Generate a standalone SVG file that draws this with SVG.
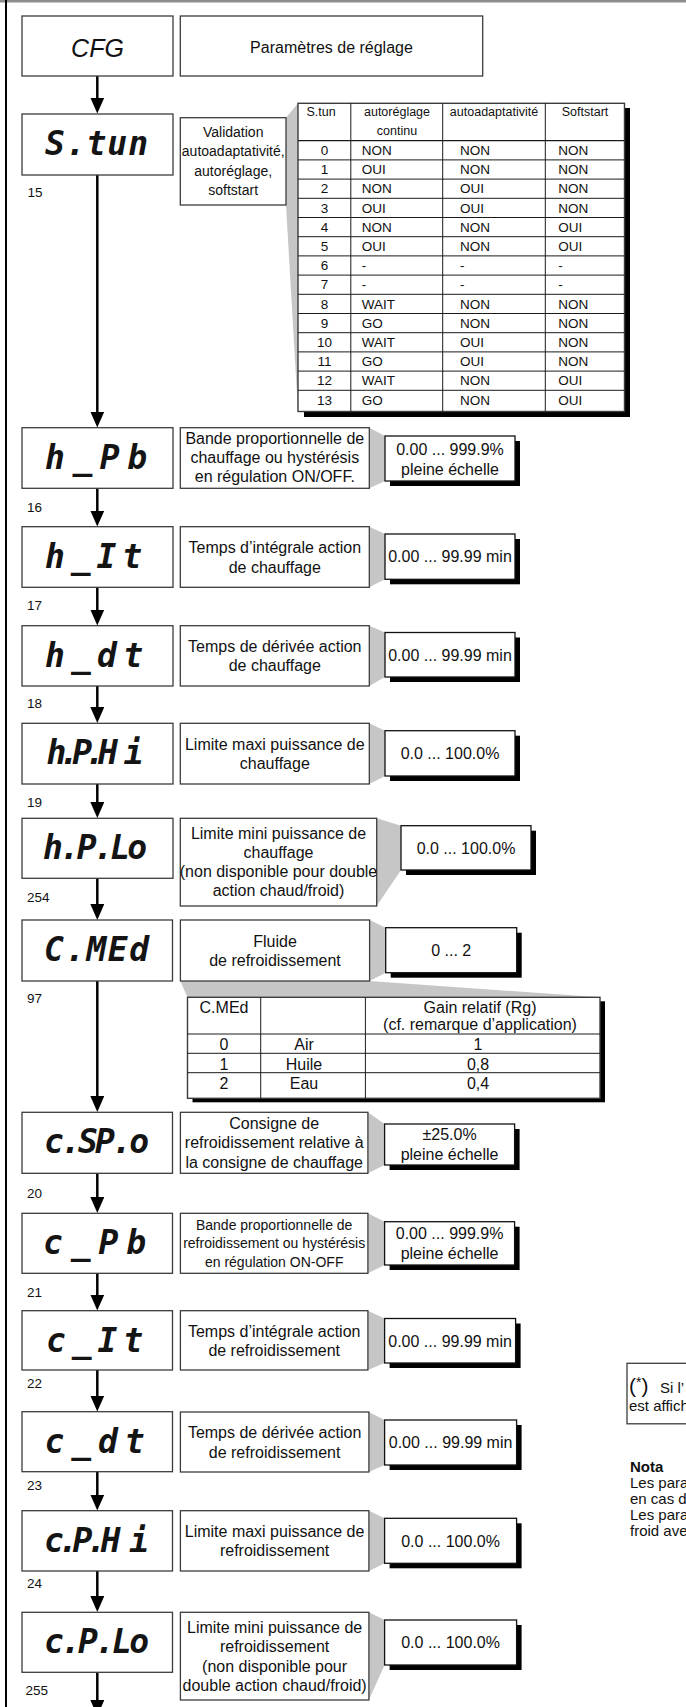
<svg xmlns="http://www.w3.org/2000/svg" width="686" height="1707" viewBox="0 0 686 1707">
<defs>
<style>
.bg{fill:#fff}
.frame{fill:#000}
.topband{fill:#8e8e8e}
.disp{fill:#fff;stroke:#3c3c3c;stroke-width:1.3}
.box{fill:#fff;stroke:#3c3c3c;stroke-width:1.3}
.val{fill:#fff;stroke:#111;stroke-width:1.3}
.shd{fill:#000}
.wedge{fill:#c6c6c6}
.lcd{font-family:"DejaVu Sans Mono","Liberation Mono",monospace;font-weight:bold;font-style:oblique;font-size:33px;text-anchor:middle;fill:#141414}
.t{font-family:"Liberation Sans",Arial,Helvetica,sans-serif;fill:#111}
.c{text-anchor:middle}
.f16{font-size:16px}
.f15{font-size:15px}
.f14{font-size:14px}
.f13{font-size:13.5px}
.f12{font-size:12.5px}
.num{font-family:"Liberation Sans",Arial,sans-serif;font-size:13.5px;fill:#111}
.conn line{stroke:#000;stroke-width:2.5;marker-end:url(#ah)}
.grid{stroke:#1a1a1a;stroke-width:1;fill:none}
.tbl{fill:#fff;stroke:#3c3c3c;stroke-width:1.4}
</style>
<marker id="ah" markerUnits="userSpaceOnUse" markerWidth="16" markerHeight="14" viewBox="0 0 16 14" refX="12" refY="7" orient="auto">
<path d="M0,0 L16,7 L0,14 z" fill="#000"/>
</marker>
</defs>

<rect class="bg" x="0" y="0" width="686" height="1707"/>
<!-- page frame -->
<rect class="topband" x="0" y="0" width="686" height="2.5"/>
<rect class="frame" x="5" y="0" width="2" height="1707"/>

<!-- connectors -->
<g id="connectors" class="conn">
<line x1="97.3" y1="76" x2="97.3" y2="109.5"/>
<line x1="97.3" y1="175" x2="97.3" y2="423.5"/>
<line x1="97.3" y1="488.3" x2="97.3" y2="522.5"/>
<line x1="97.3" y1="587.3" x2="97.3" y2="621.5"/>
<line x1="97.3" y1="686" x2="97.3" y2="719"/>
<line x1="97.3" y1="784" x2="97.3" y2="814"/>
<line x1="97.3" y1="878.3" x2="97.3" y2="916"/>
<line x1="97.3" y1="981" x2="97.3" y2="1108"/>
<line x1="97.3" y1="1173.3" x2="97.3" y2="1209"/>
<line x1="97.3" y1="1273.3" x2="97.3" y2="1306.5"/>
<line x1="97.3" y1="1370" x2="97.3" y2="1407.5"/>
<line x1="97.3" y1="1471.7" x2="97.3" y2="1506.5"/>
<line x1="97.3" y1="1571" x2="97.3" y2="1608"/>
<line x1="97.3" y1="1672.3" x2="97.3" y2="1712"/>
</g>

<!-- CFG -->
<g id="n-cfg">
<rect class="disp" x="22" y="16" width="151" height="60"/>
<text class="t c" x="97.5" y="56.5" style="font-size:25px;font-style:italic">CFG</text>
</g>
<g id="n-cfg-title">
<rect class="box" x="180.3" y="16" width="302.4" height="60"/>
<text class="t c f16" x="331.5" y="52.5">Paramètres de réglage</text>
</g>

<!-- S.tun -->
<g id="n-stun">
<rect class="disp" x="22" y="114" width="151" height="61"/>
<text class="lcd" x="96.5" y="155" textLength="103" lengthAdjust="spacing">S.tun</text>
<text class="num" x="27.5" y="197.3">15</text>
<polygon class="wedge" points="286,117.7 298,103.3 298,411.5 286,205"/>
<rect class="box" x="180.3" y="117.7" width="105.7" height="87.3"/>
<text class="t c f14" x="233.2" y="136.7">Validation</text>
<text class="t c f14" x="233.2" y="156.1">autoadaptativité,</text>
<text class="t c f14" x="233.2" y="175.5">autoréglage,</text>
<text class="t c f14" x="233.2" y="194.9">softstart</text>
</g>

<g id="stun-table">
<rect class="shd" x="304" y="108" width="326" height="309"/>
<rect class="tbl" x="298" y="103.3" width="326.5" height="308.2"/>
<path class="grid" d="M350.8,103.3V411.5 M442.7,103.3V411.5 M545.3,103.3V411.5"/>
<path class="grid" style="stroke-width:1.3" d="M298,140.7H624.5"/>
<path class="grid" d="M298,159.9H624.5 M298,179.1H624.5 M298,198.3H624.5 M298,217.5H624.5 M298,236.7H624.5 M298,255.9H624.5 M298,275.1H624.5 M298,294.3H624.5 M298,313.5H624.5 M298,332.7H624.5 M298,351.9H624.5 M298,371.1H624.5 M298,390.3H624.5"/>
<g class="t f12">
<text class="c" x="321" y="115.5">S.tun</text>
<text class="c" x="397" y="115.5">autoréglage</text>
<text class="c" x="397" y="134.5">continu</text>
<text class="c" x="494" y="115.5">autoadaptativité</text>
<text class="c" x="585" y="115.5">Softstart</text>
</g>
<g class="t f13">
<text class="c" x="324.5" y="154.9">0</text><text x="361.7" y="154.9">NON</text><text x="460" y="154.9">NON</text><text x="558.3" y="154.9">NON</text>
<text class="c" x="324.5" y="174.1">1</text><text x="361.7" y="174.1">OUI</text><text x="460" y="174.1">NON</text><text x="558.3" y="174.1">NON</text>
<text class="c" x="324.5" y="193.3">2</text><text x="361.7" y="193.3">NON</text><text x="460" y="193.3">OUI</text><text x="558.3" y="193.3">NON</text>
<text class="c" x="324.5" y="212.5">3</text><text x="361.7" y="212.5">OUI</text><text x="460" y="212.5">OUI</text><text x="558.3" y="212.5">NON</text>
<text class="c" x="324.5" y="231.7">4</text><text x="361.7" y="231.7">NON</text><text x="460" y="231.7">NON</text><text x="558.3" y="231.7">OUI</text>
<text class="c" x="324.5" y="250.9">5</text><text x="361.7" y="250.9">OUI</text><text x="460" y="250.9">NON</text><text x="558.3" y="250.9">OUI</text>
<text class="c" x="324.5" y="270.1">6</text><text x="361.7" y="270.1">-</text><text x="460" y="270.1">-</text><text x="558.3" y="270.1">-</text>
<text class="c" x="324.5" y="289.3">7</text><text x="361.7" y="289.3">-</text><text x="460" y="289.3">-</text><text x="558.3" y="289.3">-</text>
<text class="c" x="324.5" y="308.5">8</text><text x="361.7" y="308.5">WAIT</text><text x="460" y="308.5">NON</text><text x="558.3" y="308.5">NON</text>
<text class="c" x="324.5" y="327.7">9</text><text x="361.7" y="327.7">GO</text><text x="460" y="327.7">NON</text><text x="558.3" y="327.7">NON</text>
<text class="c" x="324.5" y="346.9">10</text><text x="361.7" y="346.9">WAIT</text><text x="460" y="346.9">OUI</text><text x="558.3" y="346.9">NON</text>
<text class="c" x="324.5" y="366.1">11</text><text x="361.7" y="366.1">GO</text><text x="460" y="366.1">OUI</text><text x="558.3" y="366.1">NON</text>
<text class="c" x="324.5" y="385.3">12</text><text x="361.7" y="385.3">WAIT</text><text x="460" y="385.3">NON</text><text x="558.3" y="385.3">OUI</text>
<text class="c" x="324.5" y="404.5">13</text><text x="361.7" y="404.5">GO</text><text x="460" y="404.5">NON</text><text x="558.3" y="404.5">OUI</text>
</g>
</g>

<!-- h_Pb -->
<g id="n-hpb">
<rect class="disp" x="22" y="427.7" width="151" height="60.6"/>
<text class="lcd" x="96" y="468.5" textLength="102" lengthAdjust="spacing">h_Pb</text>
<text class="num" x="27" y="511.7">16</text>
<polygon class="wedge" points="369.3,427.7 385,436 385,481 369.3,488.3"/>
<rect class="box" x="180.3" y="427.7" width="189" height="60.6"/>
<text class="t c f16" x="274.8" y="444">Bande proportionnelle de</text>
<text class="t c f16" x="274.8" y="463">chauffage ou hystérésis</text>
<text class="t c f16" x="274.8" y="482">en régulation ON/OFF.</text>
<rect class="shd" x="390" y="441" width="130" height="45"/>
<rect class="val" x="385" y="436" width="130" height="45"/>
<text class="t c f16" x="450" y="455">0.00 ... 999.9%</text>
<text class="t c f16" x="450" y="474.5">pleine échelle</text>
</g>

<!-- h_It -->
<g id="n-hit">
<rect class="disp" x="22" y="526.7" width="151" height="60.6"/>
<text class="lcd" x="93.5" y="567.5" textLength="97" lengthAdjust="spacing">h_It</text>
<text class="num" x="27" y="610">17</text>
<polygon class="wedge" points="369.3,526.7 385,534 385,579.3 369.3,587.3"/>
<rect class="box" x="180.3" y="526.7" width="189" height="60.6"/>
<text class="t c f16" x="274.8" y="553.3">Temps d’intégrale action</text>
<text class="t c f16" x="274.8" y="572.6">de chauffage</text>
<rect class="shd" x="390" y="539" width="130" height="45.3"/>
<rect class="val" x="385" y="534" width="130" height="45.3"/>
<text class="t c f16" x="450" y="562.4">0.00 ... 99.99 min</text>
</g>

<!-- h_dt -->
<g id="n-hdt">
<rect class="disp" x="22" y="625.7" width="151" height="60.3"/>
<text class="lcd" x="94" y="666.5" textLength="98" lengthAdjust="spacing">h_dt</text>
<text class="num" x="27" y="708">18</text>
<polygon class="wedge" points="369.3,625.7 385,632.5 385,677 369.3,686"/>
<rect class="box" x="180.3" y="625.7" width="189" height="60.3"/>
<text class="t c f16" x="274.8" y="652">Temps de dérivée action</text>
<text class="t c f16" x="274.8" y="671.3">de chauffage</text>
<rect class="shd" x="390" y="637.5" width="130" height="44.5"/>
<rect class="val" x="385" y="632.5" width="130" height="44.5"/>
<text class="t c f16" x="450" y="660.5">0.00 ... 99.99 min</text>
</g>

<!-- h.P.Hi -->
<g id="n-hphi">
<rect class="disp" x="22" y="723.3" width="151" height="60.7"/>
<text class="lcd" x="95" y="764" textLength="97" lengthAdjust="spacing">h.P.H i</text>
<text class="num" x="27" y="806.7">19</text>
<polygon class="wedge" points="369.3,723.3 385,730.7 385,776 369.3,784"/>
<rect class="box" x="180.3" y="723.3" width="189" height="60.7"/>
<text class="t c f16" x="274.8" y="749.8">Limite maxi puissance de</text>
<text class="t c f16" x="274.8" y="769.1">chauffage</text>
<rect class="shd" x="390" y="735.7" width="130" height="45.3"/>
<rect class="val" x="385" y="730.7" width="130" height="45.3"/>
<text class="t c f16" x="450" y="759">0.0 ... 100.0%</text>
</g>

<!-- h.P.Lo -->
<g id="n-hplo">
<rect class="disp" x="22" y="818.3" width="151" height="60"/>
<text class="lcd" x="95" y="859" textLength="104" lengthAdjust="spacing">h.P.Lo</text>
<text class="num" x="27" y="901.7">254</text>
<polygon class="wedge" points="376.7,818.3 401,825.7 401,870 376.7,906"/>
<rect class="box" x="180.3" y="818.3" width="196.4" height="87.7"/>
<text class="t c f16" x="278.5" y="838.5">Limite mini puissance de</text>
<text class="t c f16" x="278.5" y="857.8">chauffage</text>
<text class="t c f16" x="278.5" y="877.1">(non disponible pour double</text>
<text class="t c f16" x="278.5" y="896.4">action chaud/froid)</text>
<rect class="shd" x="406" y="830.7" width="130" height="44.3"/>
<rect class="val" x="401" y="825.7" width="130" height="44.3"/>
<text class="t c f16" x="466" y="853.6">0.0 ... 100.0%</text>
</g>

<!-- C.MEd -->
<g id="n-cmed">
<rect class="disp" x="22" y="920" width="150.5" height="61"/>
<text class="lcd" x="96.5" y="961" textLength="105" lengthAdjust="spacing">C.MEd</text>
<text class="num" x="27" y="1003.3">97</text>
<polygon class="wedge" points="369.6,920 385.7,927.7 385.7,972.7 369.6,981"/>
<polygon class="wedge" points="180.4,981 369.6,981 600,997.3 187.5,997.3"/>
<rect class="box" x="180.4" y="920" width="189.2" height="61"/>
<text class="t c f16" x="275" y="946.5">Fluide</text>
<text class="t c f16" x="275" y="965.8">de refroidissement</text>
<rect class="shd" x="390.7" y="932.7" width="131" height="45"/>
<rect class="val" x="385.7" y="927.7" width="131" height="45"/>
<text class="t c f16" x="451.2" y="955.9">0 ... 2</text>
</g>

<g id="cmed-table">
<rect class="shd" x="192.5" y="1001.3" width="412.5" height="101"/>
<rect class="tbl" x="187.5" y="997.3" width="412.5" height="101"/>
<path class="grid" d="M260.7,997.3V1098.3 M365.4,997.3V1098.3"/>
<path class="grid" d="M187.5,1034H600 M187.5,1053.3H600 M187.5,1072.7H600"/>
<g class="t f16">
<text class="c" x="224" y="1013">C.MEd</text>
<text class="c" x="480" y="1013.3">Gain relatif (Rg)</text>
<text class="c" x="480" y="1030">(cf. remarque d’application)</text>
<text class="c" x="224" y="1050">0</text><text class="c" x="304" y="1050">Air</text><text class="c" x="478" y="1050">1</text>
<text class="c" x="224" y="1069.5">1</text><text class="c" x="304" y="1069.5">Huile</text><text class="c" x="478" y="1069.5">0,8</text>
<text class="c" x="224" y="1089">2</text><text class="c" x="304" y="1089">Eau</text><text class="c" x="478" y="1089">0,4</text>
</g>
</g>

<!-- c.SP.o -->
<g id="n-cspo">
<rect class="disp" x="22" y="1112.3" width="150.5" height="61"/>
<text class="lcd" x="96.5" y="1153.3" textLength="105" lengthAdjust="spacing">c.SP.o</text>
<text class="num" x="27" y="1198.3">20</text>
<polygon class="wedge" points="367.9,1112.3 384.6,1124 384.6,1165 367.9,1173.3"/>
<rect class="box" x="180.4" y="1112.3" width="187.5" height="61"/>
<text class="t c f16" x="274.2" y="1128.6">Consigne de</text>
<text class="t c f16" x="274.2" y="1148.3">refroidissement relative à</text>
<text class="t c f16" x="274.2" y="1168">la consigne de chauffage</text>
<rect class="shd" x="389.6" y="1129" width="130" height="41"/>
<rect class="val" x="384.6" y="1124" width="130" height="41"/>
<text class="t c f16" x="449.6" y="1140.3">±25.0%</text>
<text class="t c f16" x="449.6" y="1159.5">pleine échelle</text>
</g>

<!-- c_Pb -->
<g id="n-cpb">
<rect class="disp" x="22" y="1213.3" width="150.5" height="60"/>
<text class="lcd" x="94.5" y="1254" textLength="103" lengthAdjust="spacing">c_Pb</text>
<text class="num" x="27" y="1296.7">21</text>
<polygon class="wedge" points="367.9,1213.3 384.6,1221.7 384.6,1265 367.9,1273.3"/>
<rect class="box" x="180.4" y="1213.3" width="187.5" height="60"/>
<text class="t c f14" x="274.2" y="1230">Bande proportionnelle de</text>
<text class="t c f14" x="274.2" y="1248.3">refroidissement ou hystérésis</text>
<text class="t c f14" x="274.2" y="1266.6">en régulation ON-OFF</text>
<rect class="shd" x="389.6" y="1226.7" width="130" height="43.3"/>
<rect class="val" x="384.6" y="1221.7" width="130" height="43.3"/>
<text class="t c f16" x="449.6" y="1239.3">0.00 ... 999.9%</text>
<text class="t c f16" x="449.6" y="1258.8">pleine échelle</text>
</g>

<!-- c_It -->
<g id="n-cit">
<rect class="disp" x="22" y="1310.7" width="150.5" height="59.3"/>
<text class="lcd" x="94.5" y="1351.5" textLength="97" lengthAdjust="spacing">c_It</text>
<text class="num" x="27" y="1388.3">22</text>
<polygon class="wedge" points="367.9,1310.7 384.6,1318.5 384.6,1363 367.9,1370"/>
<rect class="box" x="180.4" y="1310.7" width="187.5" height="59.3"/>
<text class="t c f16" x="274.2" y="1336.7">Temps d’intégrale action</text>
<text class="t c f16" x="274.2" y="1356">de refroidissement</text>
<rect class="shd" x="389.6" y="1323.5" width="131" height="44.5"/>
<rect class="val" x="384.6" y="1318.5" width="131" height="44.5"/>
<text class="t c f16" x="450.1" y="1346.5">0.00 ... 99.99 min</text>
</g>

<!-- c_dt -->
<g id="n-cdt">
<rect class="disp" x="22" y="1411.7" width="150.5" height="60"/>
<text class="lcd" x="94.6" y="1452.5" textLength="100" lengthAdjust="spacing">c_dt</text>
<text class="num" x="27" y="1490">23</text>
<polygon class="wedge" points="368.9,1412 384.6,1420 384.6,1465 368.9,1472"/>
<rect class="box" x="180.4" y="1412" width="188.5" height="60"/>
<text class="t c f16" x="274.6" y="1438.2">Temps de dérivée action</text>
<text class="t c f16" x="274.6" y="1457.5">de refroidissement</text>
<rect class="shd" x="389.6" y="1425" width="132" height="45"/>
<rect class="val" x="384.6" y="1420" width="132" height="45"/>
<text class="t c f16" x="450.6" y="1448.2">0.00 ... 99.99 min</text>
</g>

<!-- c.P.Hi -->
<g id="n-cphi">
<rect class="disp" x="22" y="1510.7" width="150.5" height="60.3"/>
<text class="lcd" x="96.5" y="1551.5" textLength="105" lengthAdjust="spacing">c.P.H i</text>
<text class="num" x="27" y="1588.3">24</text>
<polygon class="wedge" points="368.9,1510.7 384.6,1518.3 384.6,1563.3 368.9,1571"/>
<rect class="box" x="180.4" y="1510.7" width="188.5" height="60.3"/>
<text class="t c f16" x="274.6" y="1537">Limite maxi puissance de</text>
<text class="t c f16" x="274.6" y="1556.3">refroidissement</text>
<rect class="shd" x="389.6" y="1523.3" width="132" height="45"/>
<rect class="val" x="384.6" y="1518.3" width="132" height="45"/>
<text class="t c f16" x="450.6" y="1546.5">0.0 ... 100.0%</text>
</g>

<!-- c.P.Lo -->
<g id="n-cplo">
<rect class="disp" x="22" y="1612.3" width="150.5" height="60"/>
<text class="lcd" x="96.5" y="1653" textLength="105" lengthAdjust="spacing">c.P.Lo</text>
<text class="num" x="25.5" y="1695">255</text>
<polygon class="wedge" points="368.9,1612.3 384.6,1620 384.6,1665 368.9,1700"/>
<rect class="box" x="180.4" y="1612.3" width="188.5" height="87.7"/>
<text class="t c f16" x="274.6" y="1632.5">Limite mini puissance de</text>
<text class="t c f16" x="274.6" y="1652">refroidissement</text>
<text class="t c f16" x="274.6" y="1671.5">(non disponible pour</text>
<text class="t c f16" x="274.6" y="1691">double action chaud/froid)</text>
<rect class="shd" x="389.6" y="1625" width="132" height="45"/>
<rect class="val" x="384.6" y="1620" width="132" height="45"/>
<text class="t c f16" x="450.6" y="1648.2">0.0 ... 100.0%</text>
</g>

<!-- footnote and note at right margin -->
<g id="footnote">
<rect class="box" x="627" y="1363.3" width="80" height="60.5"/>
<text class="t" y="1393"><tspan x="629" style="font-size:21px">(</tspan><tspan style="font-size:14px" dy="-6">*</tspan><tspan style="font-size:21px" dy="6">)</tspan></text>
<text class="t f15" x="660" y="1393">Si l’</text>
<text class="t f15" x="629" y="1410.5">est affich</text>
</g>
<g id="nota">
<text class="t f15" x="630" y="1471.5" style="font-weight:bold">Nota</text>
<text class="t f15" x="630" y="1488">Les para</text>
<text class="t f15" x="630" y="1504">en cas d</text>
<text class="t f15" x="630" y="1520">Les para</text>
<text class="t f15" x="630" y="1536">froid ave</text>
</g>
</svg>
